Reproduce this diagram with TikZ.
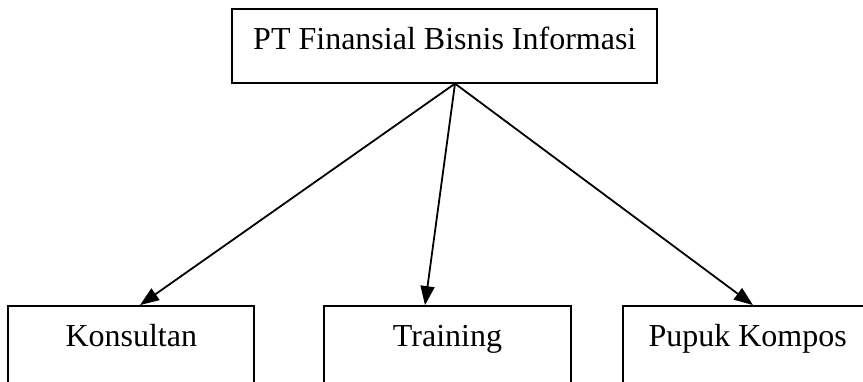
\documentclass[tikz,border=0pt]{standalone}
\usepackage{fontspec}
\setmainfont{Liberation Serif}
\usepackage{tikz}
\usetikzlibrary{arrows.meta}

\begin{document}
\begin{tikzpicture}[x=1pt,y=-1pt,
                    line width=1.8pt,
                    box/.style n args={2}{draw,rectangle,inner sep=0pt,anchor=base,
                    minimum width=#1pt,
                    text height=41pt,
                    text depth=#2pt,
                    font=\fontsize{32}{38}\selectfont},
                    link/.style={-{Triangle[length=19pt,width=14pt]}}]
    \path[use as bounding box,clip] (0,0) rectangle (863,382);
    \node[box={425}{32.7}](top) at (444.8,50) {PT Finansial Bisnis Informasi};
    \node[box={246}{60}](kons) at (131.3,347) {Konsultan};
    \node[box={246.4}{60}](trai) at (447.5,347) {Training};
    \node[box={250}{60}](pupu) at (747.7,347) {Pupuk Kompos};
    \draw[link] ([xshift=10.2pt]top.south) -- ([xshift=8.7pt]kons.north);
    \draw[link] ([xshift=10.2pt]top.south) -- ([xshift=-22.5pt]trai.north);
    \draw[link] ([xshift=10.2pt]top.south) -- ([xshift=5.3pt]pupu.north);
\end{tikzpicture}
\end{document}
